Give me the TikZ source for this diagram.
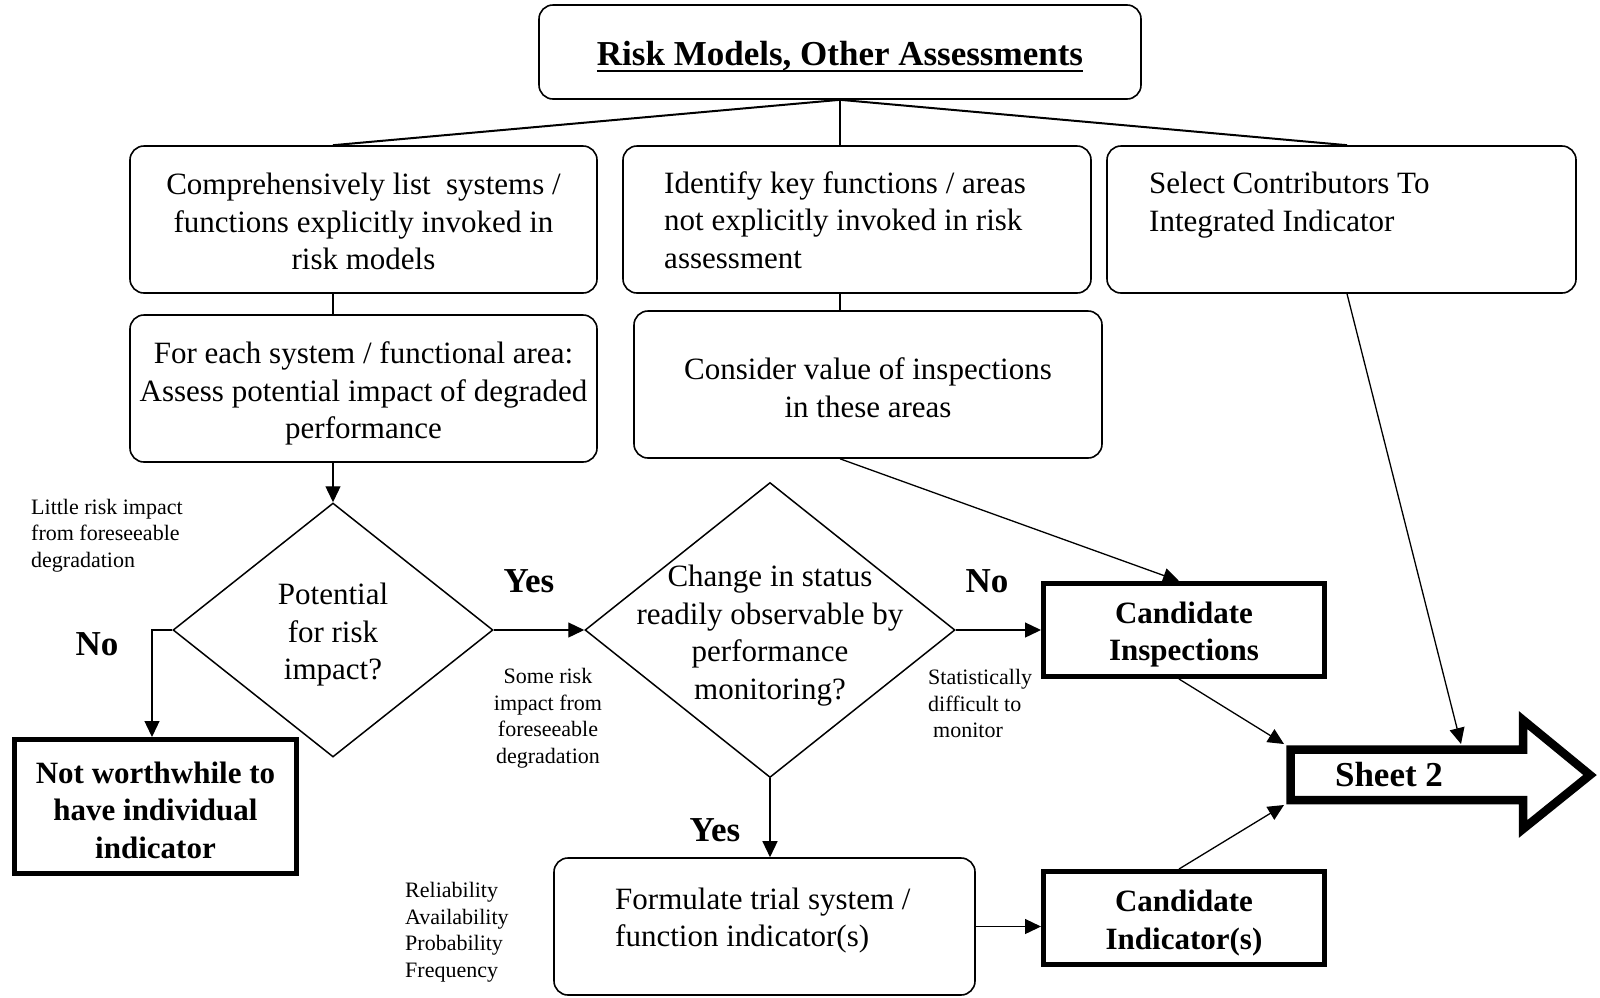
\documentclass[tikz,border=0pt]{standalone}
\usepackage{fontspec}
\setmainfont{Liberation Serif}
\usetikzlibrary{shapes.geometric,arrows.meta}
\begin{document}
\begin{tikzpicture}[x=1pt,y=-1pt,
  rbox/.style={draw, line width=1.6pt, rounded corners=14pt, inner sep=0pt},
  tbox/.style={draw, line width=5pt, inner sep=0pt},
  tboxtext/.style={inner sep=0pt, align=center, font=\fontsize{31}{37.5}\selectfont\bfseries},
  body/.style={font=\fontsize{31}{37.5}\selectfont, inner sep=0pt},
  small/.style={font=\fontsize{22}{26.5}\selectfont, inner sep=0pt},
  yn/.style={font=\fontsize{35}{40}\selectfont\bfseries, inner sep=0pt},
  dia/.style={draw, diamond, line width=1.5pt, inner sep=0pt},
  arr/.style={-{Triangle[length=16pt,width=15pt]}, line width=1.3pt},
  conn/.style={line width=1.3pt},
  tconn/.style={line width=2pt},
]
\useasboundingbox (0,0) rectangle (1600,997);

% top box
\node[rbox, minimum width=602pt, minimum height=94pt] (top) at (840,52) {};
\node[font=\fontsize{35}{40}\selectfont\bfseries, inner sep=0pt, anchor=base] (title) at (840,65) {Risk Models, Other Assessments};
\draw[line width=2.6pt] ([yshift=-6pt]title.base west) -- ([yshift=-6pt]title.base east);

% second row
\node[rbox, minimum width=467pt, minimum height=147pt] (A) at (363.5,219.5) {};
\node[body, align=center] (Atext) at (363.5,221.5)
  {Comprehensively list\ \ systems /\\ functions explicitly invoked in\\ risk models};
\node[rbox, minimum width=468pt, minimum height=147pt] (B) at (857,219.5) {};
\node[body, align=left] (Btext) at (845,220) {Identify key functions / areas\\ not explicitly invoked in risk\\ assessment};
\node[rbox, minimum width=469pt, minimum height=147pt] (C) at (1341.5,219.5) {};
\node[body, align=left, anchor=north west] (Ctext) at (1149,172) {Select Contributors To\\ Integrated Indicator};

% third row
\node[rbox, minimum width=467pt, minimum height=147pt] (D) at (363.5,388.5) {};
\node[body, align=center] (Dtext) at (363.5,393.5)
  {For each system / functional area:\\ Assess potential impact of degraded\\ performance};
\node[rbox, minimum width=468pt, minimum height=147pt] (E) at (868,384.5) {};
\node[body, align=center] (Etext) at (868,387.5)
  {Consider value of inspections\\ in these areas};

% diamonds
\node[dia, minimum width=320pt, minimum height=254pt] (d1) at (333,630) {};
\node[body, align=center] (d1text) at (333,635) {Potential\\ for risk\\ impact?};
\node[dia, minimum width=370pt, minimum height=295pt] (d2) at (770,630) {};
\node[body, align=center] (d2text) at (770,635.5) {Change in status\\ readily observable by\\ performance\\ monitoring?};

% thick boxes
\node[tbox, minimum width=281pt, minimum height=93pt] (ci) at (1184,630) {};
\node[tboxtext] (citext) at (1184,634.5) {Candidate\\ Inspections};
\node[tbox, minimum width=281pt, minimum height=93pt] (cind) at (1184,918) {};
\node[tboxtext] (cindtext) at (1184,923) {Candidate\\ Indicator(s)};
\node[tbox, minimum width=282pt, minimum height=134pt] (nw) at (155.5,806.5) {};
\node[tboxtext] (nwtext) at (155.5,810) {Not worthwhile to\\ have individual\\ indicator};

% formulate
\node[rbox, minimum width=421pt, minimum height=137pt] (form) at (764.5,926.5) {};
\node[body, align=left, anchor=north west] (formtext) at (615,887.5) {Formulate trial system /\\ function indicator(s)};

% Sheet 2 arrow
\draw[line width=8.5pt, miter limit=20] (1290.5,749.5) -- (1523,749.5) -- (1523,720) -- (1590,775) -- (1523,829) -- (1523,800) -- (1290.5,800) -- cycle;
\node[yn] (sheet) at (1389,775) {Sheet 2};
\coordinate (sheetTop) at (1461,744);
\coordinate (sheetTL) at (1284,744);
\coordinate (sheetBL) at (1284,805);
\coordinate (rc) at (1347,0);

% labels
\node[small, align=left, anchor=north west] (lbl1) at (31,499) {Little risk impact\\ from foreseeable\\ degradation};
\node[yn] (no1) at (97,644) {No};
\node[yn] (yes1) at (529,581) {Yes};
\node[small, align=center] (lbl2) at (548,718) {Some risk\\ impact from\\ foreseeable\\ degradation};
\node[yn] (no2) at (987,581) {No};
\node[small, align=left, anchor=north west] (lbl3) at (928,669.5) {Statistically\\ difficult to\\ \hspace{5pt}monitor};
\node[yn] (yes2) at (715,830) {Yes};
\node[small, align=left, anchor=north west] (lbl4) at (405,882.5) {Reliability\\ Availability\\ Probability\\ Frequency};

% connectors from top
\draw[tconn] (top.south) -- (A.north -| d1);
\draw[conn] (top.south) -- (B.north -| top.south);
\draw[tconn] (top.south) -- (C.north -| rc);
\draw[conn] (A.south -| d1) -- (D.north -| d1);
\draw[conn] (B.south -| top.south) -- (E.north -| top.south);

% flow arrows
\draw[arr] (D.south -| d1) -- (d1.north);
\draw[arr] (d1.west) -| ([xshift=-3.5pt]nw.north);
\draw[arr] (d1.east) -- (d2.west);
\draw[arr] (d2.east) -- (ci.west);
\draw[arr] (d2.south) -- (d2.south |- form.north);
\draw[arr] (form.east) -- (cind.west |- form.east);
\draw[arr] (E.south -| top.south) -- ([xshift=-5pt]ci.north);
\draw[arr] (C.south -| rc) -- (sheetTop);
\draw[arr] ([xshift=-5pt]ci.south) -- (sheetTL);
\draw[arr] ([xshift=-5pt]cind.north) -- (sheetBL);
\end{tikzpicture}
\end{document}
